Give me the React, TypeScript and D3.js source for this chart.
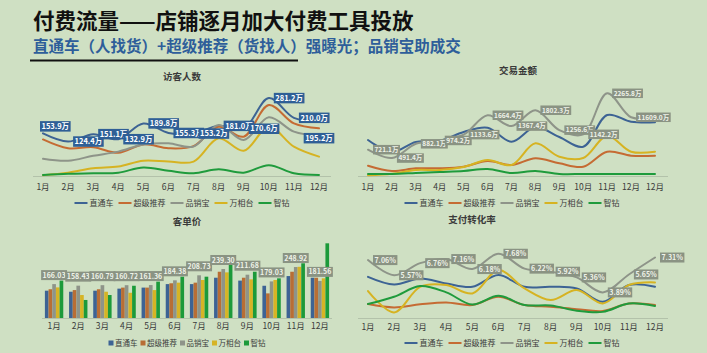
import React from 'react';
import * as d3 from 'd3';

const W = 707;
const H = 353;
const FONT = '"Noto Sans CJK SC", "Noto Sans", sans-serif';

// ---------- data ----------
const months = ['1月', '2月', '3月', '4月', '5月', '6月', '7月', '8月', '9月', '10月', '11月', '12月'];
const tradeMonths = ['1月', '2月', '3月', '4月', '5月', '6月', '7月', '8月', '9月', '10月', '11月', '12月', '12月'];
const seriesNames = ['直通车', '超级推荐', '品销宝', '万相台', '智钻'];
const lineColors = ['#3d6394', '#c56b33', '#8e9489', '#d6b322', '#1f9b3c'];
const barColors = ['#3d6394', '#b86e35', '#8e9489', '#d6b425', '#1c9a3a'];

// 访客人数 (万)
const visitorsZTC = [153.9, 124.4, 151.1, 132.9, 189.8, 155.3, 153.2, 181.0, 170.6, 281.2, 210.0, 195.2];
const visitorsCJTJ = [132, 100, 104, 84, 114, 100, 108, 178, 142, 256, 190, 172];
const visitorsPXB = [62, 55, 73, 88, 114, 118, 106, 184, 130, 212, 160, 144];
const visitorsWXT = [3, 12, 28, 34, 55, 52, 52, 136, 91, 178, 106, 70];
const visitorsZZ = [4, 8, 10, 12, 31, 19, 10, 24, 12, 39, 10, 4];

// 交易金额 (万)
const tradeZTC = [986, 658, 932, 960, 1205, 1323, 940, 1342, 1068, 803, 1671, 1488, 1471];
const tradeCJTJ = [282, 137, 211, 211, 255, 411, 301, 485, 348, 255, 666, 556, 556];
const tradePXB = [721.1, 491.4, 882.1, 974.2, 1133.6, 1664.4, 1367.4, 1802.3, 1256.6, 1142.2, 2265.8, 1609.0, 1609.0];
const tradeWXT = [20, 60, 164, 164, 247, 438, 301, 896, 529, 493, 1096, 666, 666];
const tradeZZ = [55, 55, 82, 110, 137, 192, 82, 137, 55, 55, 55, 55, 55];
const tradeLabels = ['721.1万', '491.4万', '882.1万', '974.2万', '1133.6万', '1664.4万', '1367.4万', '1802.3万', '1256.6万', '1142.2万', '2265.8万', '11609.0万'];

// 客单价
const priceZTC = [134, 129, 134, 144, 149, 166, 166, 197, 183, 158, 205, 197];
const priceCJTJ = [141, 137, 141, 149, 149, 170, 173, 226, 197, 121, 226, 197];
const pricePXB = [166.03, 158.43, 160.79, 160.72, 161.36, 184.38, 208.73, 239.3, 211.68, 179.03, 248.92, 181.56];
const priceWXT = [150, 113, 129, 124, 137, 173, 186, 223, 189, 186, 250, 194];
const priceZZ = [183, 89, 113, 158, 178, 202, 202, 259, 226, 194, 267, 364];

// 支付转化率 (%)
const convZTC = [5.42, 4.67, 5.26, 4.77, 4.44, 5.59, 4.44, 4.44, 4.28, 2.97, 4.61, 4.44];
const convCJTJ = [2.75, 2.42, 2.72, 2.91, 2.65, 3.46, 2.65, 2.48, 2.25, 2.06, 2.81, 2.65];
const convPXB = [7.06, 5.57, 6.76, 7.16, 6.18, 7.68, 6.22, 5.92, 5.36, 3.89, 5.65, 7.31];
const convWXT = [4.02, 1.93, 4.44, 4.61, 3.79, 6.08, 4.28, 3.14, 4.12, 2.81, 4.61, 4.87];
const convZZ = [2.75, 3.46, 4.51, 3.89, 2.7, 3.55, 2.65, 2.6, 2.1, 1.98, 2.8, 2.55];

// ---------- helpers ----------
let ctx: CanvasRenderingContext2D | null = null;
function textWidth(t: string, size: number, weight: string = 'normal') {
  if (!ctx) ctx = document.createElement('canvas').getContext('2d');
  if (!ctx) return t.length * size;
  ctx.font = `${weight} ${size}px ${FONT}`;
  return ctx.measureText(t).width;
}

const BG = '#cfe0c3';
const AXIS = '#b3c2aa';
const TXT = '#3a3a3a';

type Place = 'right' | 'below' | 'upleft';

function DataLabels({ pts, texts, fill, color, fs, weight, place }: any) {
  return (
    <g>
      {pts.map((p: [number, number], i: number) => {
        if (i >= texts.length) return null;
        const t = texts[i];
        const tw = textWidth(t, fs, weight);
        const w = tw + 3;
        const h = fs + 3;
        const pl: Place = place(i, texts.length);
        let x: number;
        let yc: number;
        if (pl === 'below') {
          x = p[0] - w / 2;
          yc = p[1] + 11 + h / 2;
        } else if (pl === 'upleft') {
          x = p[0] - 3;
          yc = p[1] - 7;
        } else {
          x = p[0] + 5;
          yc = p[1];
        }
        return (
          <g key={i}>
            <rect x={x} y={yc - h / 2} width={w} height={h} fill={fill} />
            <text x={x + w / 2} y={yc} dy="0.36em" textAnchor="middle" fontSize={fs} fontWeight={weight} fill={color} fontFamily={FONT}>
              {t}
            </text>
          </g>
        );
      })}
    </g>
  );
}

function LineLegend({ cx, cy, fs = 8 }: any) {
  const sw = 13, g1 = 2, g2 = 5;
  const widths = seriesNames.map((n) => textWidth(n, fs));
  const total = widths.reduce((a, b) => a + b, 0) + seriesNames.length * (sw + g1) + (seriesNames.length - 1) * g2;
  let x = cx - total / 2;
  const items = seriesNames.map((n, i) => {
    const x0 = x;
    x += sw + g1 + widths[i] + g2;
    return (
      <g key={n}>
        <line x1={x0} x2={x0 + sw} y1={cy} y2={cy} stroke={lineColors[i]} strokeWidth={2} />
        <text x={x0 + sw + g1} y={cy} dy="0.36em" fontSize={fs} fill={TXT} fontFamily={FONT}>{n}</text>
      </g>
    );
  });
  return <g>{items}</g>;
}

function BarLegend({ cx, cy, fs = 7.5 }: any) {
  const sq = 5, g1 = 1.5, g2 = 3;
  const widths = seriesNames.map((n) => textWidth(n, fs));
  const total = widths.reduce((a, b) => a + b, 0) + seriesNames.length * (sq + g1) + (seriesNames.length - 1) * g2;
  let x = cx - total / 2;
  return (
    <g>
      {seriesNames.map((n, i) => {
        const x0 = x;
        x += sq + g1 + widths[i] + g2;
        return (
          <g key={n}>
            <rect x={x0} y={cy - sq / 2} width={sq} height={sq} fill={barColors[i]} />
            <text x={x0 + sq + g1} y={cy} dy="0.36em" fontSize={fs} fill={TXT} fontFamily={FONT}>{n}</text>
          </g>
        );
      })}
    </g>
  );
}

function LinePanel(props: any) {
  const { cats, xr, yScale, data, axis, title, tickY, legend, labels } = props;
  const x = d3.scalePoint<number>().domain(cats.map((_: string, i: number) => i)).range(xr);
  const line = d3
    .line<number>()
    .x((_, i) => x(i) as number)
    .y((d) => yScale(d))
    .curve(d3.curveCatmullRom.alpha(0.5));
  const lp = data[labels.series].map((d: number, i: number) => [x(i) as number, yScale(d)]);
  return (
    <g>
      <text x={title.x} y={title.y} textAnchor="middle" fontSize={9.5} fontWeight="bold" fill={TXT} fontFamily={FONT}>{title.text}</text>
      <line x1={axis.x0} x2={axis.x1} y1={axis.y} y2={axis.y} stroke={AXIS} strokeWidth={1} />
      {cats.map((c: string, i: number) => (
        <text key={i} x={x(i)} y={tickY} textAnchor="middle" fontSize={8.5} fill={TXT} fontFamily={FONT}>{c}</text>
      ))}
      {data.map((s: number[], i: number) => (
        <path key={i} d={line(s) || ''} fill="none" stroke={lineColors[i]} strokeWidth={2} strokeLinecap="round" />
      ))}
      <DataLabels pts={lp} texts={labels.texts} fill={labels.fill} color={labels.color} fs={labels.fs} weight={labels.weight} place={labels.place} />
      <LineLegend cx={legend.cx} cy={legend.cy} />
    </g>
  );
}

function BarPanel() {
  const data = [priceZTC, priceCJTJ, pricePXB, priceWXT, priceZZ];
  const x = d3.scaleBand<string>().domain(months).range([42, 332]).paddingInner(0.24).paddingOuter(0.12);
  const xi = d3.scaleBand<number>().domain([0, 1, 2, 3, 4]).range([0, x.bandwidth()]);
  const y = d3.scaleLinear().domain([0, 400]).range([318.3, 235.9]);
  const fs = 7;
  return (
    <g>
      <text x={187} y={224.5} textAnchor="middle" fontSize={9.5} fontWeight="bold" fill={TXT} fontFamily={FONT}>客单价</text>
      {months.map((m, mi) => (
        <g key={m}>
          {data.map((s, si) => (
            <rect key={si} x={(x(m) as number) + (xi(si) as number)} y={y(s[mi])} width={xi.bandwidth()} height={y(0) - y(s[mi])} fill={barColors[si]} />
          ))}
        </g>
      ))}
      <line x1={42} x2={332} y1={318.5} y2={318.5} stroke={AXIS} strokeWidth={1} />
      {months.map((m) => (
        <text key={m} x={(x(m) as number) + x.bandwidth() / 2} y={328.5} textAnchor="middle" fontSize={8.5} fill={TXT} fontFamily={FONT}>{m}</text>
      ))}
      {months.map((m, mi) => {
        const t = pricePXB[mi].toFixed(2);
        const tw = textWidth(t, fs, 'bold');
        const w = tw + 3;
        const h = fs + 3;
        const cx = (x(m) as number) + (xi(2) as number) + xi.bandwidth() / 2;
        const yc = y(pricePXB[mi]) - 9;
        return (
          <g key={'l' + m}>
            <rect x={cx - w / 2} y={yc - h / 2} width={w} height={h} fill="#8a9383" />
            <text x={cx} y={yc} dy="0.36em" textAnchor="middle" fontSize={fs} fontWeight="bold" fill="#eef2e8" fontFamily={FONT}>{t}</text>
          </g>
        );
      })}
      <BarLegend cx={187} cy={343} />
    </g>
  );
}

export default function App() {
  React.useEffect(() => {
    document.body.style.margin = '0';
  }, []);
  const visitorScale = d3.scaleLinear().domain([0, 300]).range([176, 92.9]);
  const tradeScale = d3.scaleLinear().domain([0, 2400]).range([176, 88.4]);
  const convScale = d3.scaleLinear().domain([1.35, 9]).range([318.3, 240.3]);

  return (
    <svg width={W} height={H} style={{ position: 'absolute', left: 0, top: 0, display: 'block' }} fontFamily={FONT}>
      <rect x={0} y={0} width={W} height={H} fill={BG} />
      <text x={33} y={29} fontSize={21.5} fontWeight="bold" fill="#111" fontFamily={FONT}>付费流量——店铺逐月加大付费工具投放</text>
      <text x={33} y={52} fontSize={15.5} fontWeight="bold" fill="#2e5e9a" fontFamily={FONT}>直通车（人找货）+超级推荐（货找人）强曝光；品销宝助成交</text>
      <line x1={30} x2={298} y1={60.5} y2={60.5} stroke="#111" strokeWidth={2} />

      <LinePanel
        cats={months}
        xr={[43, 319]}
        yScale={visitorScale}
        data={[visitorsZTC, visitorsCJTJ, visitorsPXB, visitorsWXT, visitorsZZ]}
        axis={{ x0: 33, x1: 331, y: 176.5 }}
        title={{ text: '访客人数', x: 182, y: 79.5 }}
        tickY={189.5}
        legend={{ cx: 182, cy: 203 }}
        labels={{
          series: 0,
          texts: visitorsZTC.map((v) => v.toFixed(1) + '万'),
          fill: '#2f5f96',
          color: '#ffffff',
          fs: 7.5,
          weight: 'bold',
          place: (i: number, n: number) => (i === 0 ? 'upleft' : i === n - 1 ? 'below' : 'right'),
        }}
      />

      <LinePanel
        cats={tradeMonths}
        xr={[368, 655]}
        yScale={tradeScale}
        data={[tradeZTC, tradeCJTJ, tradePXB, tradeWXT, tradeZZ]}
        axis={{ x0: 358, x1: 668, y: 176.5 }}
        title={{ text: '交易金额', x: 518, y: 73.5 }}
        tickY={189.5}
        legend={{ cx: 512, cy: 203 }}
        labels={{
          series: 2,
          texts: tradeLabels,
          fill: '#8a9383',
          color: '#eef2e8',
          fs: 6.5,
          weight: 'bold',
          place: () => 'right',
        }}
      />

      <BarPanel />

      <LinePanel
        cats={months}
        xr={[368, 655]}
        yScale={convScale}
        data={[convZTC, convCJTJ, convPXB, convWXT, convZZ]}
        axis={{ x0: 358, x1: 668, y: 318.5 }}
        title={{ text: '支付转化率', x: 472, y: 222.5 }}
        tickY={330}
        legend={{ cx: 512, cy: 343 }}
        labels={{
          series: 2,
          texts: convPXB.map((v) => v.toFixed(2) + '%'),
          fill: '#8a9383',
          color: '#eef2e8',
          fs: 7,
          weight: 'bold',
          place: () => 'right',
        }}
      />
    </svg>
  );
}
